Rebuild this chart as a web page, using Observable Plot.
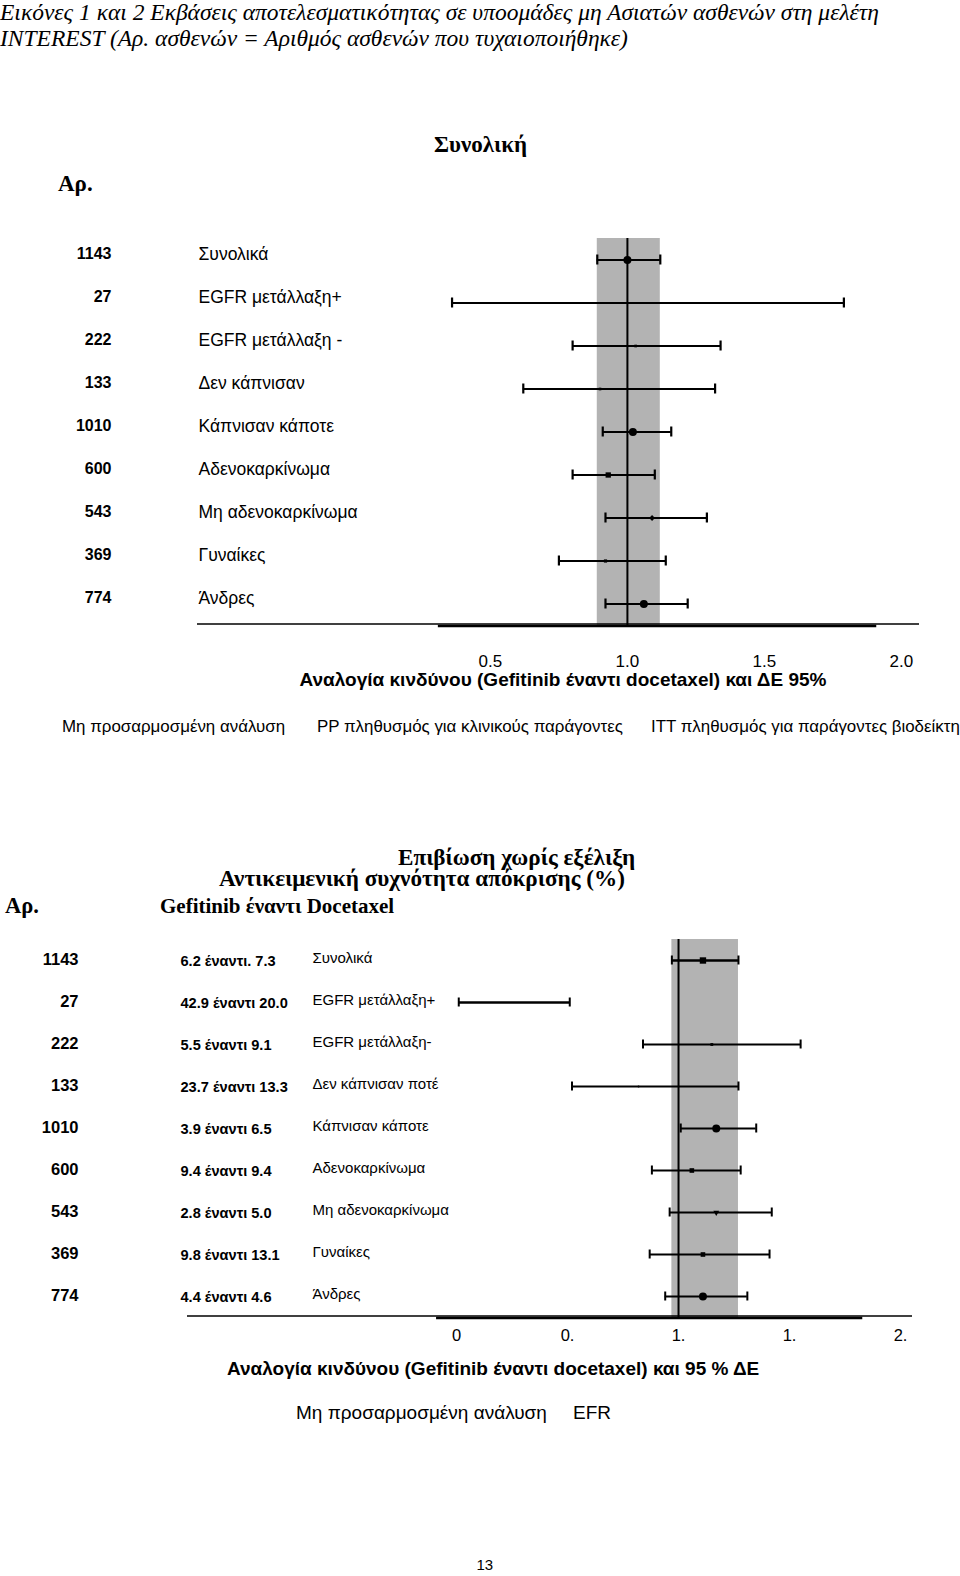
<!DOCTYPE html>
<html><head><meta charset="utf-8">
<script src="https://cdn.jsdelivr.net/npm/d3@7"></script>
<script src="https://cdn.jsdelivr.net/npm/@observablehq/plot@0.6"></script>
<style>
body{margin:0;background:#fff;}
#page{position:relative;width:960px;height:1576px;overflow:hidden;background:#fff;}
.t{position:absolute;white-space:nowrap;color:#000;}
.serif{font-family:"Liberation Serif","Times New Roman",serif;}
.sans{font-family:"Liberation Sans",Arial,sans-serif;}
.plot{position:absolute;left:0;}
</style></head><body><div id="page"></div>
<script>
// ---------------- DATA ----------------
// Figure 1 (overall survival, hazard ratio & 95% CI)
const groups1 = ["Συνολικά","EGFR μετάλλαξη+","EGFR μετάλλαξη -","Δεν κάπνισαν","Κάπνισαν κάποτε","Αδενοκαρκίνωμα","Μη αδενοκαρκίνωμα","Γυναίκες","Άνδρες"];
const patients1 = [1143, 27, 222, 133, 1010, 600, 543, 369, 774];
const hr1 = [1.00, null, 1.03, 0.90, 1.02, 0.93, 1.09, 0.92, 1.06];
const lo1 = [0.89, 0.36, 0.80, 0.62, 0.91, 0.80, 0.92, 0.75, 0.92];
const hi1 = [1.12, 1.79, 1.34, 1.32, 1.16, 1.10, 1.29, 1.14, 1.22];
const band1 = [0.89, 1.12];
const ticks1 = [0.5, 1.0, 1.5, 2.0];

// Figure 2 (progression-free survival / objective response rate)
const groups2 = ["Συνολικά","EGFR μετάλλαξη+","EGFR μετάλλαξη-","Δεν κάπνισαν ποτέ","Κάπνισαν κάποτε","Αδενοκαρκίνωμα","Μη αδενοκαρκίνωμα","Γυναίκες","Άνδρες"];
const patients2 = [1143, 27, 222, 133, 1010, 600, 543, 369, 774];
const orrGefitinib = [6.2, 42.9, 5.5, 23.7, 3.9, 9.4, 2.8, 9.8, 4.4];
const orrDocetaxel = [7.3, 20.0, 9.1, 13.3, 6.5, 9.4, 5.0, 13.1, 4.6];
const hr2 = [1.11, null, 1.15, 0.82, 1.17, 1.06, 1.17, 1.11, 1.11];
const lo2 = [0.97, 0.01, 0.84, 0.52, 1.01, 0.88, 0.96, 0.87, 0.94];
const hi2 = [1.27, 0.51, 1.55, 1.27, 1.35, 1.28, 1.42, 1.41, 1.31];
const band2 = [0.97, 1.27];
const ticks2 = [0, 0.5, 1.0, 1.5, 2.0];
const tickLabels2 = ["0", "0.", "1.", "1.", "2."];

// ---------------- STYLE ----------------
const marker1 = ["circle", "none", "dash", "dash", "circle", "square", "diamond", "bar", "circle"];
const marker2 = ["square", "none", "dash", "dot", "circle", "squareS", "triangle", "squareS", "circle"];
const lineW2 = [2.6, 2.6, 2, 2, 2, 1.8, 1.8, 1.8, 2];
const thickSeg1 = [0.31, 1.91];
const thickSeg2 = [-0.09, 1.83];
const GRAY = "#b3b3b3";
const page = document.getElementById("page");

function addText(txt, x, y, size, cls, extra = "") {
  const d = document.createElement("div");
  d.className = "t " + cls;
  d.textContent = txt;
  d.style.cssText += `left:${x}px;top:${y - size * 0.58}px;font-size:${size}px;line-height:${size * 1.15}px;` + extra;
  page.appendChild(d);
  return d;
}
function addCentered(txt, cx, y, size, cls, extra = "") {
  const d = addText(txt, 0, y, size, cls, extra);
  d.style.left = (cx - d.offsetWidth / 2) + "px";
  return d;
}

function baseline(seg) {
  return (index, scales, values, dims) => {
    const g = d3.create("svg:g");
    const yb = dims.height - dims.marginBottom;
    g.append("line").attr("x1", dims.marginLeft).attr("x2", dims.width - dims.marginRight)
      .attr("y1", yb - 1).attr("y2", yb - 1).attr("stroke", "#000").attr("stroke-width", 1.6);
    g.append("line").attr("x1", scales.x(seg[0])).attr("x2", scales.x(seg[1]))
      .attr("y1", yb + 1).attr("y2", yb + 1).attr("stroke", "#000").attr("stroke-width", 2.4);
    return g.node();
  };
}

function markerMarks(rows, kinds, table) {
  const marks = [];
  for (const [kind, opts] of Object.entries(table)) {
    const sub = rows.filter((d) => kinds[d.i] === kind && d.hr != null);
    if (sub.length) marks.push(Plot.dot(sub, {x: "hr", y: "i", fill: "#000", stroke: "none", ...opts}));
  }
  return marks;
}

// ---------------- PAGE TEXT (figure 1) ----------------
addText("Εικόνες 1 και 2 Εκβάσεις αποτελεσματικότητας σε υποομάδες μη Ασιατών ασθενών στη μελέτη", 0, 13, 23.5, "serif", "font-style:italic;");
addText("INTEREST (Αρ. ασθενών = Αριθμός ασθενών που τυχαιοποιήθηκε)", 0, 39, 23.5, "serif", "font-style:italic;");
addText("Συνολική", 434, 145, 23, "serif", "font-weight:bold;");
addText("Αρ.", 58, 184, 23, "serif", "font-weight:bold;");

// ---------------- FIGURE 1 ----------------
const rows1 = groups1.map((g, i) => ({i, g, n: patients1[i], hr: hr1[i], lo: lo1[i], hi: hi1[i]}));
const T1 = 200;
const plot1 = Plot.plot({
  width: 960, height: 480,
  marginLeft: 197, marginRight: 41, marginTop: 38, marginBottom: 55,
  style: {fontFamily: "Liberation Sans, Arial, sans-serif", fontSize: "17px", background: "transparent", color: "#000"},
  x: {domain: [-0.569, 2.066], ticks: ticks1, tickFormat: d3.format(".1f"), tickSize: 0, tickPadding: 29, label: null},
  y: {type: "band", domain: d3.range(groups1.length), range: [37.5, 424.5], padding: 0, axis: null},
  marks: [
    Plot.rect([band1], {x1: (d) => d[0], x2: (d) => d[1], fill: GRAY}),
    Plot.ruleX([1], {stroke: "#000", strokeWidth: 2}),
    Plot.ruleY(rows1, {y: "i", x1: "lo", x2: "hi", stroke: "#000", strokeWidth: 2.2}),
    Plot.tickX(rows1, {x: "lo", y: "i", insetTop: 16.5, insetBottom: 16.5, stroke: "#000", strokeWidth: 2.2}),
    Plot.tickX(rows1, {x: "hi", y: "i", insetTop: 16.5, insetBottom: 16.5, stroke: "#000", strokeWidth: 2.2}),
    ...markerMarks(rows1, marker1, {
      circle: {r: 4},
      square: {symbol: "square", r: 3},
      dash: {symbol: "square", r: 1.5},
      diamond: {symbol: "diamond2", r: 2.6},
      bar: {symbol: "square", r: 1.8}
    }),
    Plot.text(rows1, {y: "i", text: (d) => String(d.n), frameAnchor: "left", dx: -86, dy: -6, textAnchor: "end", fontSize: 16, fontWeight: "bold"}),
    Plot.text(rows1, {y: "i", text: "g", frameAnchor: "left", dx: 1, dy: -6, textAnchor: "start", fontSize: 17.5}),
    baseline(thickSeg1)
  ]
});
plot1.classList.add("plot");
plot1.style.top = T1 + "px";
page.appendChild(plot1);

addCentered("Αναλογία κινδύνου (Gefitinib έναντι docetaxel) και ΔΕ 95%", 563, 680, 19, "sans", "font-weight:bold;");
addText("Μη προσαρμοσμένη ανάλυση", 62, 727, 16.9, "sans");
addText("PP πληθυσμός για κλινικούς παράγοντες", 317, 727, 16.9, "sans");
addText("ITT πληθυσμός για παράγοντες βιοδείκτη", 651, 727, 16.9, "sans");

// ---------------- PAGE TEXT (figure 2) ----------------
addText("Επιβίωση χωρίς εξέλιξη", 398, 857, 23.2, "serif", "font-weight:bold;");
addText("Αντικειμενική συχνότητα απόκρισης (%)", 219, 878, 23.2, "serif", "font-weight:bold;");
addText("Αρ.", 5, 906, 22.5, "serif", "font-weight:bold;");
addText("Gefitinib έναντι Docetaxel", 160, 906, 21, "serif", "font-weight:bold;");

// ---------------- FIGURE 2 ----------------
const rows2 = groups2.map((g, i) => ({
  i, g, n: patients2[i], hr: hr2[i], lo: lo2[i], hi: hi2[i],
  orr: `${orrGefitinib[i].toFixed(1)} ${i === 0 ? "έναντι." : "έναντι"} ${orrDocetaxel[i].toFixed(1)}`
}));
const T2 = 925;
const plot2 = Plot.plot({
  width: 960, height: 430,
  marginLeft: 187, marginRight: 48, marginTop: 14, marginBottom: 38,
  style: {fontFamily: "Liberation Sans, Arial, sans-serif", fontSize: "16.5px", background: "transparent", color: "#000"},
  x: {domain: [-1.212, 2.054], ticks: ticks2, tickFormat: (d) => tickLabels2[ticks2.indexOf(d)], tickSize: 0, tickPadding: 12, label: null},
  y: {type: "band", domain: d3.range(groups2.length), range: [14, 392], padding: 0, axis: null},
  marks: [
    Plot.rect([band2], {x1: (d) => d[0], x2: (d) => d[1], fill: GRAY}),
    Plot.ruleX([1], {stroke: "#000", strokeWidth: 2}),
    Plot.ruleY(rows2, {y: "i", x1: "lo", x2: "hi", stroke: "#000", strokeWidth: (d) => lineW2[d.i]}),
    Plot.tickX(rows2, {x: "lo", y: "i", insetTop: 16.5, insetBottom: 16.5, stroke: "#000", strokeWidth: 2}),
    Plot.tickX(rows2, {x: "hi", y: "i", insetTop: 16.5, insetBottom: 16.5, stroke: "#000", strokeWidth: 2}),
    ...markerMarks(rows2, marker2, {
      circle: {r: 4},
      square: {symbol: "square", r: 3.6},
      squareS: {symbol: "square", r: 2.6},
      dash: {symbol: "square", r: 1.6},
      dot: {r: 1},
      triangle: {symbol: "triangle2", r: 2.8, rotate: 180}
    }),
    Plot.text(rows2, {y: "i", text: (d) => String(d.n), frameAnchor: "left", dx: -109, dy: -1, textAnchor: "end", fontSize: 16.5, fontWeight: "bold"}),
    Plot.text(rows2, {y: "i", text: "orr", frameAnchor: "left", dx: -7, dy: 1, textAnchor: "start", fontSize: 14.6, fontWeight: "bold"}),
    Plot.text(rows2, {y: "i", text: "g", frameAnchor: "left", dx: 125, dy: -2, textAnchor: "start", fontSize: 15}),
    baseline(thickSeg2)
  ]
});
plot2.classList.add("plot");
plot2.style.top = T2 + "px";
page.appendChild(plot2);

addCentered("Αναλογία κινδύνου (Gefitinib έναντι docetaxel) και 95 % ΔΕ", 493, 1369, 19, "sans", "font-weight:bold;");
addText("Μη προσαρμοσμένη ανάλυση", 296, 1413, 19, "sans");
addText("EFR", 573, 1413, 19, "sans");
addCentered("13", 485, 1565, 15, "sans");
</script>
</body></html>
